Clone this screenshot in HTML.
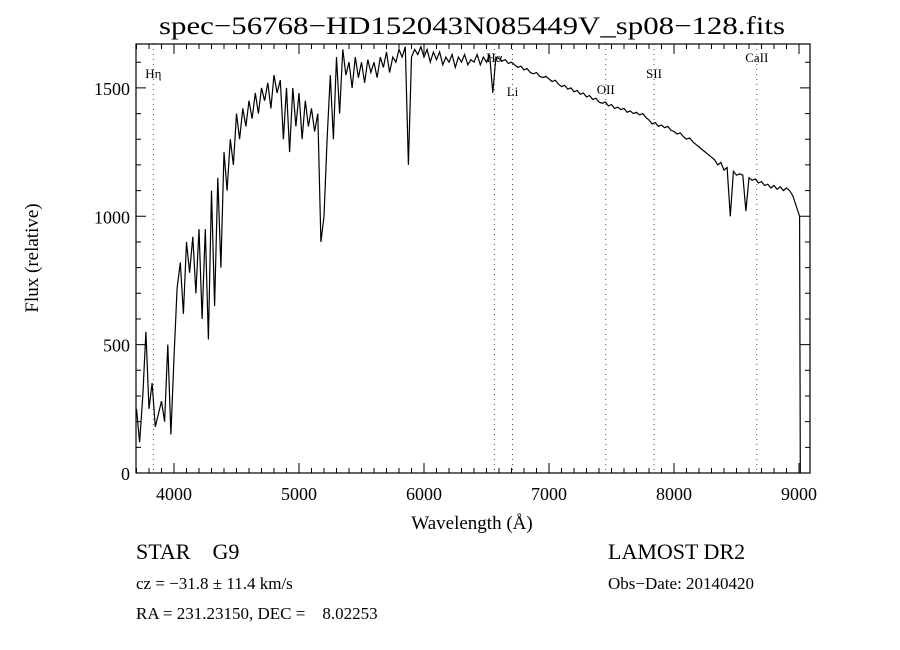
<!DOCTYPE html>
<html><head><meta charset="utf-8"><style>
html,body{margin:0;padding:0;background:#fff;}
svg{display:block;font-family:"Liberation Serif",serif;}
text{white-space:pre;}
</style></head><body>
<svg id="chart" width="900" height="650" viewBox="0 0 900 650">
<text x="472" y="34" text-anchor="middle" font-size="25" textLength="626" lengthAdjust="spacingAndGlyphs">spec−56768−HD152043N085449V_sp08−128.fits</text>
<text transform="translate(38,258) rotate(-90)" text-anchor="middle" font-size="19">Flux (relative)</text>
<text x="472" y="529" text-anchor="middle" font-size="19">Wavelength (Å)</text>
<text x="136" y="559" font-size="22" xml:space="preserve">STAR    G9</text>
<text x="608" y="559" font-size="22">LAMOST DR2</text>
<text x="136" y="589" font-size="17">cz = −31.8 ± 11.4 km/s</text>
<text x="608" y="589" font-size="17">Obs−Date: 20140420</text>
<text x="136" y="619" font-size="17" xml:space="preserve">RA = 231.23150, DEC =    8.02253</text>
<g id="plot"></g>
</svg>
<script>
const wlStart = 3700, wlStep = 25;
const flux = [250,120,300,550,250,350,180,230,280,200,500,150,450,720,820,620,900,780,920,700,950,600,950,520,1100,650,1150,800,1250,1100,1300,1200,1400,1300,1420,1350,1450,1380,1480,1400,1500,1450,1520,1420,1550,1480,1530,1300,1500,1250,1500,1350,1480,1300,1450,1350,1420,1330,1400,900,1000,1300,1550,1300,1620,1400,1650,1550,1600,1500,1620,1540,1600,1520,1610,1560,1600,1540,1620,1580,1640,1560,1620,1600,1650,1620,1660,1200,1620,1650,1630,1660,1620,1650,1600,1640,1610,1640,1590,1620,1600,1630,1580,1620,1600,1630,1590,1610,1600,1630,1590,1620,1600,1630,1480,1620,1615,1605,1610,1595,1600,1590,1580,1585,1570,1575,1560,1555,1560,1545,1540,1545,1535,1525,1530,1515,1505,1510,1495,1500,1485,1490,1475,1480,1465,1470,1455,1460,1445,1440,1445,1430,1435,1420,1425,1415,1420,1405,1410,1400,1405,1395,1400,1385,1375,1360,1365,1350,1355,1345,1350,1335,1330,1320,1325,1310,1300,1305,1290,1280,1270,1260,1250,1240,1230,1220,1200,1210,1180,1190,1000,1175,1160,1165,1160,1020,1150,1140,1145,1130,1135,1120,1125,1110,1120,1105,1115,1100,1110,1100,1080];
const endWl = [9005, 9010];
const endFlux = [1000, 0];
const lineNames = ["Hη","Hα","Li","OII","SII","CaII"];
const lineWl = [3835,6563,6708,7454,7840,8662];
const lineLabelY = [78,62,96,94,78,62];
const xTicks = [4000,5000,6000,7000,8000,9000];
const yTicks = [0,500,1000,1500];

const L=136,R=810,T=44,B=473;
const xMin=3696,xMax=9088,yMin=0,yMax=1671;
const xs=v=>L+(v-xMin)/(xMax-xMin)*(R-L);
const ys=v=>B-(v-yMin)/(yMax-yMin)*(B-T);
const NS="http://www.w3.org/2000/svg";
const g=document.getElementById('plot');
function mk(t,a){const e=document.createElementNS(NS,t);for(const k in a)e.setAttribute(k,a[k]);g.appendChild(e);return e;}

lineNames.forEach((n,i)=>{
  const l=mk('line',{x1:xs(lineWl[i]),x2:xs(lineWl[i]),y1:T,y2:B,stroke:'#8b3a2a','stroke-width':1,'stroke-dasharray':'1,4'});
  
  
  const t=mk('text',{x:xs(lineWl[i]),y:lineLabelY[i],'font-size':13,'text-anchor':'middle'});
  t.textContent=n;
  
  
});

let d='';
flux.forEach((f,i)=>{d+=(i?'L':'M')+xs(wlStart+i*wlStep).toFixed(1)+','+ys(f).toFixed(1);});
endWl.forEach((w,i)=>{d+='L'+xs(w).toFixed(1)+','+ys(endFlux[i]).toFixed(1);});
const p=mk('path',{d:d,fill:'none',stroke:'#000','stroke-width':1.2});



const fr=mk('rect',{x:L,y:T,width:R-L,height:B-T,fill:'none',stroke:'#000','stroke-width':1.2});



let td='';
for(let w=3700;w<=9000;w+=100){const x=xs(w);const len=(w%1000===0)?10:5;td+=`M${x},${B}V${B-len}M${x},${T}V${T+len}`;}
for(let v=0;v<=1600;v+=100){const y=ys(v);const len=(v%500===0)?10:5;td+=`M${L},${y}H${L+len}M${R},${y}H${R-len}`;}
const tk=mk('path',{d:td,stroke:'#000','stroke-width':1});



xTicks.forEach(v=>{
  const t=mk('text',{x:xs(v),y:B+27,'font-size':18,'text-anchor':'middle'});
  t.textContent=v;
  
  
});
yTicks.forEach(v=>{
  const t=mk('text',{x:L-6,y:ys(v)+7,'font-size':18,'text-anchor':'end'});
  t.textContent=v;
  
  
});
</script>
</body></html>
